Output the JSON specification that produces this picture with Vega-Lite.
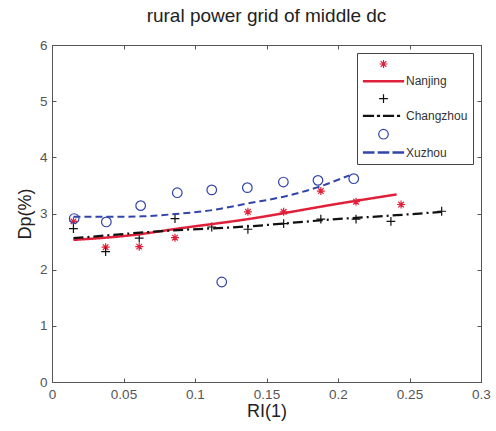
{
  "$schema": "https://vega.github.io/schema/vega-lite/v6.json",
  "width": 429,
  "height": 337,
  "autosize": {"type": "none"},
  "padding": {"left": 52, "top": 45, "right": 15, "bottom": 49},
  "background": "white",
  "config": {
    "view": {"stroke": "#555", "strokeWidth": 1},
    "font": "Liberation Sans"
  },
  "title": {"text": "rural power grid of middle dc", "fontSize": 19, "fontWeight": "normal", "font": "Liberation Sans", "color": "#222", "offset": 12},
  "datasets": {
    "pts": [
      {"series": "Nanjing pts", "x": 0.015, "y": 2.86},
      {"series": "Nanjing pts", "x": 0.0375, "y": 2.40},
      {"series": "Nanjing pts", "x": 0.061, "y": 2.41},
      {"series": "Nanjing pts", "x": 0.086, "y": 2.57},
      {"series": "Nanjing pts", "x": 0.137, "y": 3.03},
      {"series": "Nanjing pts", "x": 0.162, "y": 3.03},
      {"series": "Nanjing pts", "x": 0.188, "y": 3.40},
      {"series": "Nanjing pts", "x": 0.2126, "y": 3.21},
      {"series": "Nanjing pts", "x": 0.2441, "y": 3.16},
      {"series": "Changzhou pts", "x": 0.015, "y": 2.73},
      {"series": "Changzhou pts", "x": 0.0375, "y": 2.32},
      {"series": "Changzhou pts", "x": 0.061, "y": 2.56},
      {"series": "Changzhou pts", "x": 0.086, "y": 2.91},
      {"series": "Changzhou pts", "x": 0.1117, "y": 2.76},
      {"series": "Changzhou pts", "x": 0.137, "y": 2.72},
      {"series": "Changzhou pts", "x": 0.162, "y": 2.82},
      {"series": "Changzhou pts", "x": 0.188, "y": 2.90},
      {"series": "Changzhou pts", "x": 0.2126, "y": 2.90},
      {"series": "Changzhou pts", "x": 0.237, "y": 2.86},
      {"series": "Changzhou pts", "x": 0.2725, "y": 3.04},
      {"series": "Xuzhou pts", "x": 0.0155, "y": 2.91},
      {"series": "Xuzhou pts", "x": 0.038, "y": 2.85},
      {"series": "Xuzhou pts", "x": 0.062, "y": 3.14},
      {"series": "Xuzhou pts", "x": 0.0876, "y": 3.37},
      {"series": "Xuzhou pts", "x": 0.1117, "y": 3.42},
      {"series": "Xuzhou pts", "x": 0.1187, "y": 1.78},
      {"series": "Xuzhou pts", "x": 0.1366, "y": 3.46},
      {"series": "Xuzhou pts", "x": 0.1618, "y": 3.56},
      {"series": "Xuzhou pts", "x": 0.186, "y": 3.59},
      {"series": "Xuzhou pts", "x": 0.211, "y": 3.62}
    ],
    "fits": [
      {"series": "Nanjing", "x": 0.015, "y": 2.53},
      {"series": "Nanjing", "x": 0.061, "y": 2.63},
      {"series": "Nanjing", "x": 0.085, "y": 2.72},
      {"series": "Nanjing", "x": 0.137, "y": 2.90},
      {"series": "Nanjing", "x": 0.2015, "y": 3.18},
      {"series": "Nanjing", "x": 0.241, "y": 3.34},
      {"series": "Changzhou", "x": 0.015, "y": 2.56},
      {"series": "Changzhou", "x": 0.085, "y": 2.70},
      {"series": "Changzhou", "x": 0.137, "y": 2.77},
      {"series": "Changzhou", "x": 0.194, "y": 2.89},
      {"series": "Changzhou", "x": 0.241, "y": 2.97},
      {"series": "Changzhou", "x": 0.2725, "y": 3.03},
      {"series": "Xuzhou", "x": 0.015, "y": 2.94},
      {"series": "Xuzhou", "x": 0.04, "y": 2.94},
      {"series": "Xuzhou", "x": 0.063, "y": 2.95},
      {"series": "Xuzhou", "x": 0.086, "y": 2.99},
      {"series": "Xuzhou", "x": 0.112, "y": 3.06},
      {"series": "Xuzhou", "x": 0.137, "y": 3.18},
      {"series": "Xuzhou", "x": 0.162, "y": 3.30},
      {"series": "Xuzhou", "x": 0.186, "y": 3.47},
      {"series": "Xuzhou", "x": 0.208, "y": 3.68}
    ]
  },
  "layer": [
    {
      "data": {"name": "pts"},
      "mark": {"type": "point", "filled": false, "size": 64, "strokeWidth": 1.2, "opacity": 1},
      "encoding": {
        "x": {
          "field": "x", "type": "quantitative",
          "scale": {"domain": [0, 0.3], "nice": false, "zero": false},
          "axis": {
            "orient": "bottom", "values": [0, 0.05, 0.1, 0.15, 0.2, 0.25, 0.3], "format": "~g",
            "grid": false, "tickSize": -4, "labelPadding": 9, "labelFontSize": 13.5, "labelColor": "#555",
            "domainColor": "#555", "tickColor": "#555", "labelFlush": false,
            "title": "RI(1)", "titleFontSize": 18, "titleFontWeight": "normal", "titleColor": "#222", "titlePadding": 2
          }
        },
        "y": {
          "field": "y", "type": "quantitative",
          "scale": {"domain": [0, 6], "nice": false, "zero": false},
          "axis": {
            "orient": "left", "values": [0, 1, 2, 3, 4, 5, 6],
            "grid": false, "tickSize": -4, "labelPadding": 9, "labelFontSize": 13.5, "labelColor": "#555",
            "domainColor": "#555", "tickColor": "#555", "labelFlush": false,
            "title": "Dp(%)", "titleFontSize": 18, "titleFontWeight": "normal", "titleColor": "#222", "titlePadding": 5
          }
        },
        "color": {
          "field": "series", "type": "nominal",
          "scale": {
            "domain": ["Nanjing pts", "Nanjing", "Changzhou pts", "Changzhou", "Xuzhou pts", "Xuzhou"],
            "range": ["#e0203a", "#e0203a", "#111111", "#111111", "#3344aa", "#3344aa"]
          },
          "legend": {
            "title": null, "orient": "top-right", "offset": 8, "padding": 5,
            "strokeColor": "#444", "fillColor": "white",
            "symbolSize": 64, "symbolOffset": 15.5, "labelOffset": 16.5, "rowPadding": 4.3,
            "labelFontSize": 12, "labelFont": "Liberation Sans", "labelColor": "#333",
            "symbolFillColor": "transparent", "symbolStrokeWidth": 1.2,
            "labelExpr": "indexof(datum.label, ' pts') >= 0 ? '' : datum.label"
          }
        },
        "shape": {
          "field": "series", "type": "nominal",
          "scale": {
            "domain": ["Nanjing pts", "Nanjing", "Changzhou pts", "Changzhou", "Xuzhou pts", "Xuzhou"],
            "range": [
              "M-1,0H1M0,-1V1M-0.7,-0.7L0.7,0.7M-0.7,0.7L0.7,-0.7",
              "M-5,-0.15H5V0.15H-5Z",
              "M-1.1,0H1.1M0,-1.1V1.1",
              "M-5,-0.15H-2.5V0.15H-5ZM-1.5,-0.15H-1V0.15H-1.5ZM0,-0.15H2.5V0.15H0ZM3.5,-0.15H4V0.15H3.5Z",
              "M1.2,0A1.2,1.2,0,1,1,-1.2,0A1.2,1.2,0,1,1,1.2,0Z",
              "M-5,-0.15H-2.4V0.15H-5ZM-1.3,-0.15H1.3V0.15H-1.3ZM2.4,-0.15H5V0.15H2.4Z"
            ]
          },
          "legend": {
            "title": null, "orient": "top-right", "offset": 8, "padding": 5,
            "strokeColor": "#444", "fillColor": "white",
            "symbolSize": 64, "symbolOffset": 15.5, "labelOffset": 16.5, "rowPadding": 4.3,
            "labelFontSize": 12, "labelFont": "Liberation Sans", "labelColor": "#333",
            "symbolFillColor": "transparent", "symbolStrokeWidth": 1.2,
            "labelExpr": "indexof(datum.label, ' pts') >= 0 ? '' : datum.label"
          }
        }
      }
    },
    {
      "data": {"name": "fits"},
      "mark": {"type": "line", "interpolate": "monotone"},
      "encoding": {
        "x": {
          "field": "x", "type": "quantitative",
          "axis": {"orient": "top", "values": [0, 0.05, 0.1, 0.15, 0.2, 0.25, 0.3], "labels": false, "title": null, "grid": false, "tickSize": -4, "domainColor": "#555", "tickColor": "#555"}
        },
        "y": {
          "field": "y", "type": "quantitative",
          "axis": {"orient": "right", "values": [0, 1, 2, 3, 4, 5, 6], "labels": false, "title": null, "grid": false, "tickSize": -4, "domainColor": "#555", "tickColor": "#555"}
        },
        "color": {"field": "series", "type": "nominal"},
        "strokeDash": {
          "field": "series", "type": "nominal",
          "scale": {"domain": ["Nanjing", "Changzhou", "Xuzhou"], "range": [[1, 0], [10, 4, 2, 4], [7, 4]]},
          "legend": null
        },
        "strokeWidth": {
          "field": "series", "type": "nominal",
          "scale": {"domain": ["Nanjing", "Changzhou", "Xuzhou"], "range": [2.5, 2, 2]},
          "legend": null
        }
      }
    }
  ]
}
